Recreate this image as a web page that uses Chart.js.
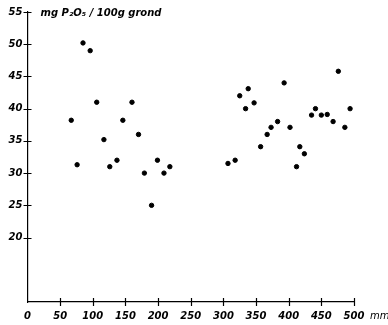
<!DOCTYPE html>
<html>
<head>
<meta charset="utf-8">
<script src="https://cdn.jsdelivr.net/npm/chart.js@4/dist/chart.umd.min.js"></script>
<style>
  body { margin: 0; background: #fff; }
  #wrap { width: 388px; height: 325px; }
</style>
</head>
<body>
<div id="wrap"><canvas id="chart" width="388" height="325"></canvas></div>
<script>
// distance in mm
const distance = [85, 96, 106, 160, 67, 76, 117, 146, 170, 126, 137, 179, 199, 209, 218, 190,
  476, 393, 338, 325, 347, 334, 441, 494, 435, 450, 459, 468, 383, 373, 402, 486, 367, 357, 417, 424, 412, 318, 307];
// mg P2O5 / 100g grond
const phosphate = [50.2, 49, 41, 41, 38.2, 31.3, 35.2, 38.2, 36, 31, 32, 30, 32, 30, 31, 25,
  45.8, 44, 43.1, 42, 40.9, 40, 40, 40, 39, 39, 39.1, 38, 38, 37.1, 37.1, 37.1, 36, 34.1, 34.1, 33, 31, 32, 31.5];
const yTicks = [20, 25, 30, 35, 40, 45, 50, 55];
const xTicks = [0, 50, 100, 150, 200, 250, 300, 350, 400, 450, 500];
const yTitle = 'mg P\u2082O\u2085 / 100g grond';
const xUnit = 'mm';

const FONT = '"DejaVu Sans", sans-serif';

const crossTicks = {
  id: 'crossTicks',
  afterDraw(chart) {
    const ctx = chart.ctx;
    const x = chart.scales.x, y = chart.scales.y;
    ctx.save();
    ctx.strokeStyle = '#000';
    ctx.lineWidth = 1.2;
    ctx.beginPath();
    yTicks.forEach(v => {
      const py = Math.round(y.getPixelForValue(v)) + 0.5;
      ctx.moveTo(x.left - 4, py);
      ctx.lineTo(x.left + 4, py);
    });
    xTicks.forEach(v => {
      if (v === 0) return;
      const px = Math.round(x.getPixelForValue(v)) + 0.5;
      ctx.moveTo(px, y.bottom - 4);
      ctx.lineTo(px, y.bottom + 4);
    });
    ctx.stroke();
    ctx.fillStyle = '#000';
    ctx.font = 'italic bold 10px ' + FONT;
    ctx.textBaseline = 'middle';
    ctx.textAlign = 'left';
    ctx.fillText(yTitle, x.left + 13, y.getPixelForValue(55) + 1);
    ctx.font = 'italic 10px ' + FONT;
    ctx.fillText(xUnit, x.right + 16, y.bottom + 14);
    ctx.restore();
  }
};

new Chart(document.getElementById('chart').getContext('2d'), {
  type: 'scatter',
  data: {
    datasets: [{
      data: distance.map((d, i) => ({ x: d, y: phosphate[i] })),
      backgroundColor: '#000',
      borderColor: '#000',
      pointRadius: 2.2,
      pointHoverRadius: 2.2
    }]
  },
  options: {
    responsive: false,
    animation: false,
    layout: { padding: { left: 0, right: 34, top: 12, bottom: 0 } },
    plugins: { legend: { display: false }, tooltip: { enabled: false } },
    scales: {
      x: {
        type: 'linear',
        min: 0,
        max: 500,
        afterFit: s => { s.height = 23; },
        afterBuildTicks: s => { s.ticks = xTicks.map(v => ({ value: v })); },
        grid: { display: false, drawTicks: false },
        border: { display: true, color: '#000', width: 1.2 },
        ticks: {
          color: '#000',
          padding: 8,
          maxRotation: 0,
          font: { family: FONT, size: 10, style: 'italic', weight: 'bold' }
        }
      },
      y: {
        min: 10,
        max: 55,
        afterFit: s => { s.width = 27.5; },
        afterBuildTicks: s => { s.ticks = yTicks.map(v => ({ value: v })); },
        grid: { display: false, drawTicks: false },
        border: { display: true, color: '#000', width: 1.2 },
        ticks: {
          color: '#000',
          padding: 5,
          font: { family: FONT, size: 10, style: 'italic', weight: 'bold' }
        }
      }
    }
  },
  plugins: [crossTicks]
});
</script>
</body>
</html>
